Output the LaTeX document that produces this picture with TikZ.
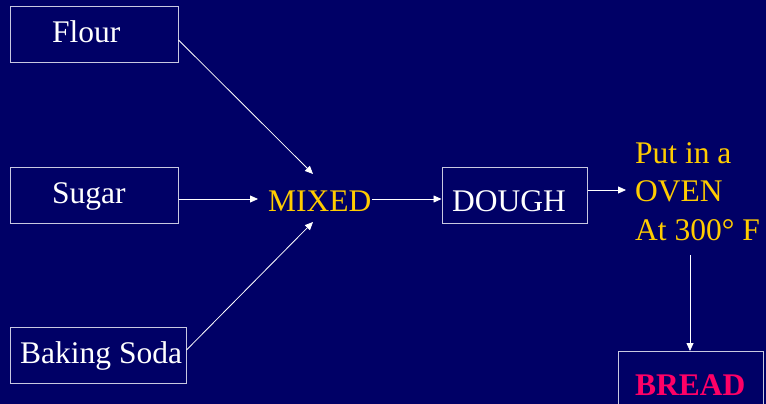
\documentclass[tikz,border=0pt]{standalone}
\usepackage{fontspec}
\setmainfont{LiberationSerif}[Extension=.ttf, UprightFont=*-Regular, BoldFont=*-Bold]
\usetikzlibrary{arrows.meta}
\definecolor{slidebg}{HTML}{000066}
\definecolor{gold}{HTML}{FFCC00}
\definecolor{crimson}{HTML}{FF0066}
\definecolor{frame}{RGB}{200,200,225}
\begin{document}
\begin{tikzpicture}[x=1pt,y=-1pt,
  box/.style={draw=frame, line width=1pt, inner sep=0pt},
  txt/.style={inner sep=0pt, anchor=base west, font=\fontsize{31.5}{36}\selectfont},
  flow/.style={draw=white, line width=0.8pt, -{Triangle[length=8pt,width=7pt]}}]
  % background and page size
  \fill[slidebg] (0,0) rectangle (766,404);
  \useasboundingbox (0,0) rectangle (766,404);

  % ingredient boxes
  \node[box, minimum width=168pt, minimum height=56pt] (flour) at (94,35) {};
  \node[txt, text=white] (flourT) at (52,43) {Flour};
  \node[box, minimum width=168pt, minimum height=56pt] (sugar) at (94,195) {};
  \node[txt, text=white] (sugarT) at (52,203) {Sugar};
  \node[box, minimum width=176pt, minimum height=56pt] (soda) at (98,355) {};
  \node[txt, text=white] (sodaT) at (20,363) {Baking Soda};

  % mixing stage
  \node[txt, text=gold] (mixed) at (268,211) {MIXED};
  \coordinate (mixNW) at (313,174);
  \coordinate (mixW) at (258,199);
  \coordinate (mixSW) at (313,222);

  % dough
  \node[box, minimum width=145pt, minimum height=56pt] (dough) at (514.5,195) {};
  \node[txt, text=white] (doughT) at (452,211) {DOUGH};

  % oven step
  \node[txt, text=gold] (put) at (635,163) {Put in a};
  \node[txt, text=gold] (oven) at (635,201) {OVEN};
  \node[txt, text=gold] (temp) at (635,240) {At 300\textdegree\ F};
  \coordinate (ovenIn) at (626,190);
  \coordinate (ovenOut) at (690,255);

  % bread
  \draw[frame, line width=1pt] (618,420) coordinate (breadSW) -- (618,351) -- (763,351) -- (763,420);
  \coordinate (breadTop) at (690,351);
  \node[txt, text=crimson, font=\bfseries\fontsize{31.5}{36}\selectfont] (bread) at (635,395) {BREAD};

  % connectors
  \draw[flow] (flour.east |- 0,40) -- (mixNW);
  \draw[flow] (sugar.east |- 0,199) -- (mixW);
  \draw[flow] (soda.east |- 0,350) -- (mixSW);
  \draw[flow] (mixed.east |- 0,199) -- (dough.west |- 0,199);
  \draw[flow] (dough.east |- 0,190) -- (ovenIn);
  \draw[flow] (ovenOut) -- (breadTop);
\end{tikzpicture}
\end{document}
